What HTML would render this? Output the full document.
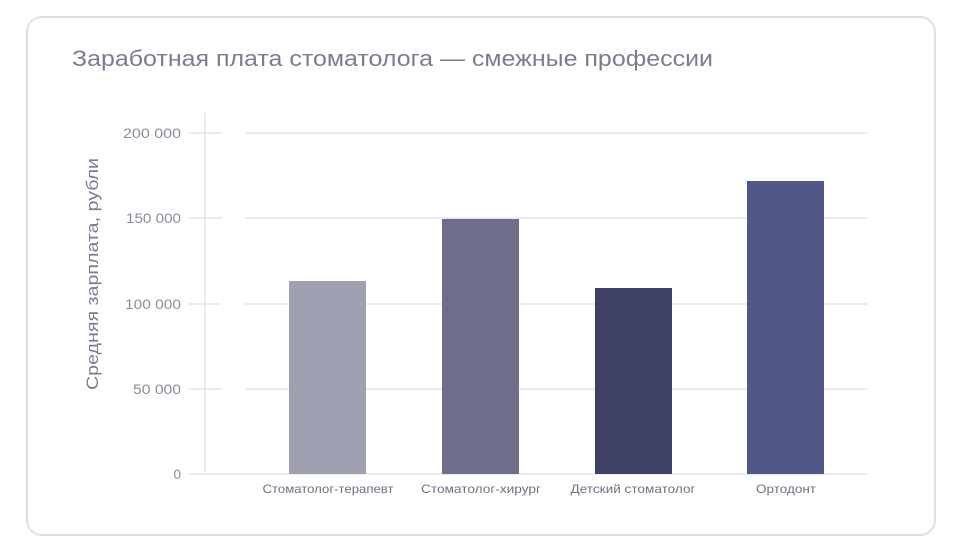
<!DOCTYPE html>
<html><head><meta charset="utf-8"><style>
body{margin:0;background:#fff;width:961px;height:550px;overflow:hidden;font-family:"Liberation Sans",sans-serif}
.card{position:absolute;left:26px;top:16px;width:906px;height:516px;border:2px solid #dfdfea;border-radius:16px;box-sizing:content-box}
</style></head><body>
<div class="card"></div>
<svg width="961" height="550" style="position:absolute;left:0;top:0" font-family="Liberation Sans, sans-serif">
<text x="72" y="66" font-size="22" fill="#7a7d8e" textLength="641" lengthAdjust="spacingAndGlyphs">Заработная плата стоматолога — смежные профессии</text>
<g stroke="#e3e3ec" stroke-width="1.5">
<line x1="188" y1="133" x2="222" y2="133"/><line x1="245" y1="133" x2="868" y2="133"/>
<line x1="188" y1="218" x2="222" y2="218"/><line x1="245" y1="218" x2="868" y2="218"/>
<line x1="188" y1="304" x2="222" y2="304"/><line x1="245" y1="304" x2="868" y2="304"/>
<line x1="188" y1="389" x2="222" y2="389"/><line x1="245" y1="389" x2="868" y2="389"/>
<line x1="188" y1="474" x2="868" y2="474"/>
<line x1="205" y1="113" x2="205" y2="474"/>
</g>
<g font-size="13.5" fill="#8a8c9a" text-anchor="end">
<text x="181" y="138" textLength="58" lengthAdjust="spacingAndGlyphs">200 000</text><text x="181" y="223" textLength="55" lengthAdjust="spacingAndGlyphs">150 000</text><text x="181" y="309" textLength="56" lengthAdjust="spacingAndGlyphs">100 000</text><text x="181" y="394" textLength="48" lengthAdjust="spacingAndGlyphs">50 000</text><text x="181" y="479">0</text>
</g>
<text transform="translate(98,274) rotate(-90)" text-anchor="middle" font-size="17" fill="#7a7d8e" textLength="232" lengthAdjust="spacingAndGlyphs">Средняя зарплата, рубли</text>
<rect x="289" y="281" width="77" height="193" fill="#a0a0b3"/>
<rect x="442" y="219" width="77" height="255" fill="#6e6e8a"/>
<rect x="595" y="288" width="77" height="186" fill="#3e4064"/>
<rect x="747" y="181" width="77" height="293" fill="#515788"/>
<g font-size="12" fill="#6e7080" text-anchor="middle">
<text x="328" y="493" textLength="131" lengthAdjust="spacingAndGlyphs">Стоматолог-терапевт</text><text x="481" y="493" textLength="120" lengthAdjust="spacingAndGlyphs">Стоматолог-хирург</text><text x="633" y="493" textLength="125" lengthAdjust="spacingAndGlyphs">Детский стоматолог</text><text x="786" y="493" textLength="60" lengthAdjust="spacingAndGlyphs">Ортодонт</text>
</g>
</svg>
</body></html>
